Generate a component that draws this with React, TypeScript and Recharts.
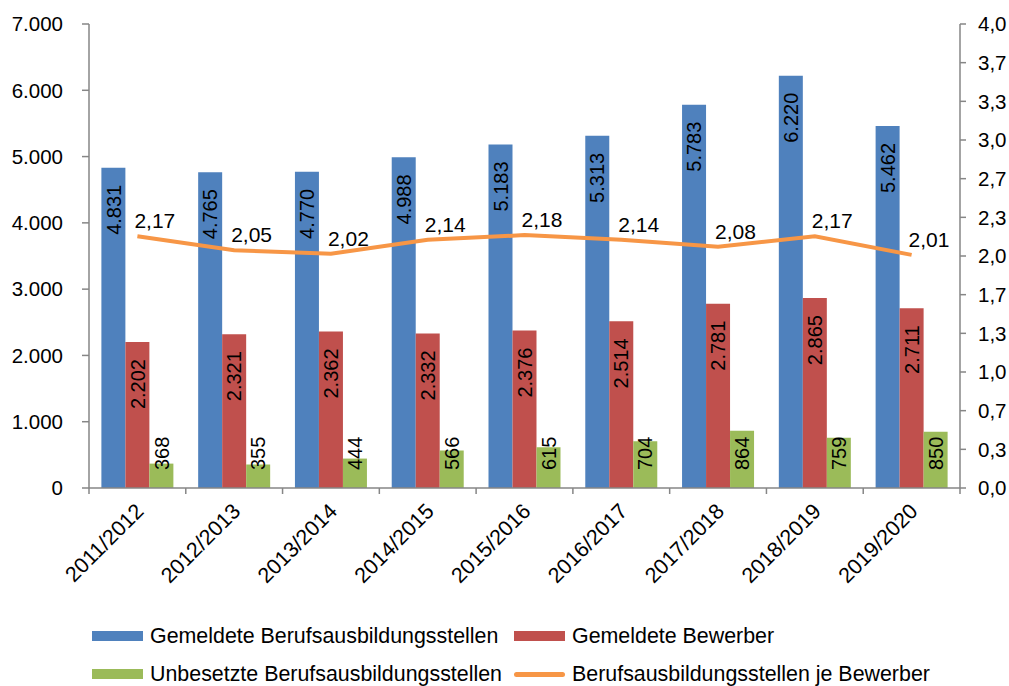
import {
    Bar,
    ComposedChart,
    LabelList,
    Legend,
    Line,
    XAxis,
    YAxis,
} from "recharts";

const years = [
    "2011/2012",
    "2012/2013",
    "2013/2014",
    "2014/2015",
    "2015/2016",
    "2016/2017",
    "2017/2018",
    "2018/2019",
    "2019/2020",
];
const stellen = [4831, 4765, 4770, 4988, 5183, 5313, 5783, 6220, 5462];
const bewerber = [2202, 2321, 2362, 2332, 2376, 2514, 2781, 2865, 2711];
const unbesetzt = [368, 355, 444, 566, 615, 704, 864, 759, 850];
const jeBewerber = [2.17, 2.05, 2.02, 2.14, 2.18, 2.14, 2.08, 2.17, 2.01];

const leftTicks = [0, 1000, 2000, 3000, 4000, 5000, 6000, 7000];
const rightTicks = [0, 1 / 3, 2 / 3, 1, 4 / 3, 5 / 3, 2, 7 / 3, 8 / 3, 3, 10 / 3, 11 / 3, 4];

const data = years.map((year, i) => ({
    year,
    stellen: stellen[i],
    bewerber: bewerber[i],
    unbesetzt: unbesetzt[i],
    ratio: jeBewerber[i],
}));

const FONT = '"Liberation Sans", Arial, sans-serif';
const AXIS = "#868686";
const WIDTH = 1009;
const HEIGHT = 686;
const PLOT_LEFT = 89;
const PLOT_RIGHT = 960;
const PLOT_BOTTOM = 488;
const BAND = (PLOT_RIGHT - PLOT_LEFT) / years.length;

const thousands = (n: number) =>
    Math.round(n)
        .toString()
        .replace(/\B(?=(\d{3})+(?!\d))/g, ".");

const textWidth = (s: string, size: number) =>
    s.split("").reduce((w, c) => w + (c === "." || c === "," ? 0.278 : 0.556), 0) * size;

const BarValueLabel = (props: any) => {
    const { x, y, width, value } = props;
    const text = thousands(value);
    const len = textWidth(text, 20);
    const top = Math.min(y + 17, PLOT_BOTTOM - 18 - len);
    const cx = x + width / 2;
    return (
        <text
            x={cx}
            y={top}
            transform={`rotate(-90, ${cx}, ${top})`}
            textAnchor="end"
            dy="0.36em"
            fontSize={20}
            fontFamily={FONT}
            fill="#000"
        >
            {text}
        </text>
    );
};

const RatioLabel = (props: any) => {
    const { x, y, value } = props;
    return (
        <text x={x - 3} y={y - 8} fontSize={21} fontFamily={FONT} fill="#000">
            {value.toFixed(2).replace(".", ",")}
        </text>
    );
};

const YearTick = (props: any) => {
    const { x, y, payload, index } = props;
    const last = index === years.length - 1;
    const tx = x + 2;
    const ty = y + 19;
    return (
        <g>
            <line x1={x - BAND / 2} y1={y} x2={x - BAND / 2} y2={y + 6} stroke={AXIS} strokeWidth={1.5} />
            {last && (
                <line x1={x + BAND / 2} y1={y} x2={x + BAND / 2} y2={y + 6} stroke={AXIS} strokeWidth={1.5} />
            )}
            <text
                x={tx}
                y={ty}
                transform={`rotate(-45, ${tx}, ${ty})`}
                textAnchor="end"
                dy="0.36em"
                fontSize={21.5}
                fontFamily={FONT}
                fill="#000"
            >
                {payload.value}
            </text>
        </g>
    );
};

const legendItems = [
    { name: "Gemeldete Berufsausbildungsstellen", color: "#4F81BD", line: false },
    { name: "Gemeldete Bewerber", color: "#C0504D", line: false },
    { name: "Unbesetzte Berufsausbildungsstellen", color: "#9BBB59", line: false },
    { name: "Berufsausbildungsstellen je Bewerber", color: "#F79646", line: true },
];

const LegendContent = () => (
    <div
        style={{
            display: "grid",
            gridTemplateColumns: "422px 440px",
            paddingLeft: 92,
            paddingTop: 9,
            fontFamily: FONT,
            fontSize: 21.4,
            color: "#000",
        }}
    >
        {legendItems.map((item) => (
            <div key={item.name} style={{ display: "flex", alignItems: "center", height: 38 }}>
                <span
                    style={{
                        display: "inline-block",
                        width: 51,
                        height: item.line ? 5 : 10,
                        borderRadius: item.line ? 3 : 0,
                        background: item.color,
                        marginRight: 7,
                    }}
                />
                <span style={{ whiteSpace: "nowrap" }}>{item.name}</span>
            </div>
        ))}
    </div>
);

const App = () => {
    return (
        <div style={{ position: "absolute", left: 0, top: 0 }}>
            <ComposedChart
                width={WIDTH}
                height={HEIGHT}
                data={data}
                margin={{ top: 24, right: 0, left: 0, bottom: 0 }}
                barCategoryGap="12.8%"
                barGap={0}
            >
                <XAxis
                    dataKey="year"
                    height={120}
                    tickLine={false}
                    tickSize={0}
                    tickMargin={0}
                    interval={0}
                    axisLine={{ stroke: AXIS, strokeWidth: 1.5 }}
                    tick={<YearTick />}
                />
                <YAxis
                    yAxisId="left"
                    width={PLOT_LEFT}
                    domain={[0, 7000]}
                    ticks={leftTicks}
                    interval={0}
                    tickFormatter={thousands}
                    tickSize={7}
                    tickMargin={19}
                    axisLine={{ stroke: AXIS, strokeWidth: 1.5 }}
                    tickLine={{ stroke: AXIS, strokeWidth: 1.5 }}
                    tick={{ fill: "#000", fontSize: 20.5, fontFamily: FONT }}
                />
                <YAxis
                    yAxisId="right"
                    orientation="right"
                    width={WIDTH - PLOT_RIGHT}
                    domain={[0, 4]}
                    ticks={rightTicks}
                    interval={0}
                    tickFormatter={(v: number) => v.toFixed(1).replace(".", ",")}
                    tickSize={6}
                    tickMargin={12}
                    axisLine={{ stroke: AXIS, strokeWidth: 1.5 }}
                    tickLine={{ stroke: AXIS, strokeWidth: 1.5 }}
                    tick={{ fill: "#000", fontSize: 20.5, fontFamily: FONT, textAnchor: "start" }}
                />
                <Legend verticalAlign="bottom" height={78} content={<LegendContent />} wrapperStyle={{ left: 0, width: WIDTH }} />
                <Bar yAxisId="left" dataKey="stellen" fill="#4F81BD" isAnimationActive={false}>
                    <LabelList dataKey="stellen" content={<BarValueLabel />} />
                </Bar>
                <Bar yAxisId="left" dataKey="bewerber" fill="#C0504D" isAnimationActive={false}>
                    <LabelList dataKey="bewerber" content={<BarValueLabel />} />
                </Bar>
                <Bar yAxisId="left" dataKey="unbesetzt" fill="#9BBB59" isAnimationActive={false}>
                    <LabelList dataKey="unbesetzt" content={<BarValueLabel />} />
                </Bar>
                <Line
                    yAxisId="right"
                    dataKey="ratio"
                    type="linear"
                    stroke="#F79646"
                    strokeWidth={4}
                    dot={false}
                    activeDot={false}
                    isAnimationActive={false}
                >
                    <LabelList dataKey="ratio" content={<RatioLabel />} />
                </Line>
            </ComposedChart>
        </div>
    );
};

export default App;
